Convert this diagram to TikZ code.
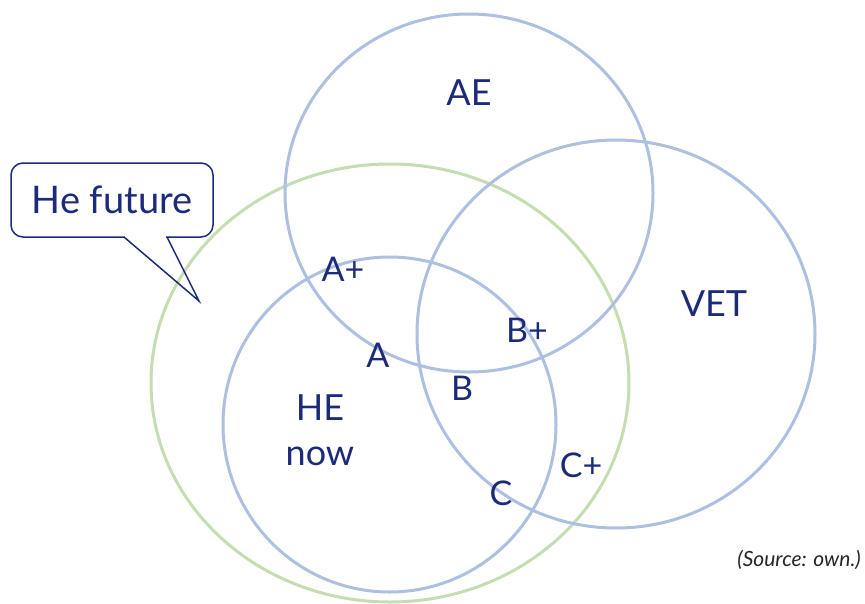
\documentclass[tikz,border=0pt]{standalone}
\usepackage{fontspec}
\setmainfont{Lato}
\definecolor{navy}{HTML}{1C2A7A}
\definecolor{vblue}{HTML}{AEC0E2}
\definecolor{vgreen}{HTML}{C5DDB0}
\begin{document}
\begin{tikzpicture}[x=1pt,y=-1pt,
  ring/.style={line width=3pt},
  lab/.style={text=navy,anchor=base,inner sep=0pt,font=\fontsize{34}{38}\selectfont},
  biglab/.style={lab,font=\fontsize{36}{40}\selectfont}]
\useasboundingbox (0,0) rectangle (865,603);
% circles
\draw[ring,vgreen] (390,383) ellipse [x radius=239pt, y radius=219pt];
\draw[ring,vblue] (469,193) ellipse [x radius=184pt, y radius=179pt];
\draw[ring,vblue] (616,334) ellipse [x radius=199pt, y radius=194pt];
\draw[ring,vblue] (389.5,424.5) ellipse [x radius=166.5pt, y radius=167.5pt];
% callout
\node[draw=navy,line width=1.5pt,rounded corners=12pt,minimum width=202pt,minimum height=74pt,inner sep=0pt,
      text=navy,font=\fontsize{38}{42}\selectfont] (hf) at (112,200) {He future};
\coordinate (tip) at (199,301);
\coordinate (pl) at (124,237);
\coordinate (pr) at (167,237);
\fill[white] ([xshift=0.8pt,yshift=1.2pt]pl) rectangle ([xshift=-0.8pt,yshift=-1.2pt]pr);
\draw[navy,line width=1.5pt,line join=miter] (pl) -- (tip) -- (pr);
% labels
\node[biglab] (ae) at (469,105) {AE};
\node[biglab] (vet) at (714,316) {VET};
\node[lab] (ap) at (343,281) {A+};
\node[lab] (a) at (378,367) {A};
\node[lab] (bp) at (527,342) {B+};
\node[lab] (b) at (462,400) {B};
\node[biglab] (he) at (320,420) {HE};
\node[biglab] (now) at (320,465) {now};
\node[lab] (cp) at (581,477) {C+};
\node[lab] (c) at (501,505) {C};
\node[anchor=base east,inner sep=0pt,text=black!85,font=\fontsize{21}{24}\selectfont\itshape] (src) at (861,566) {(Source: own.)};
\end{tikzpicture}
\end{document}
